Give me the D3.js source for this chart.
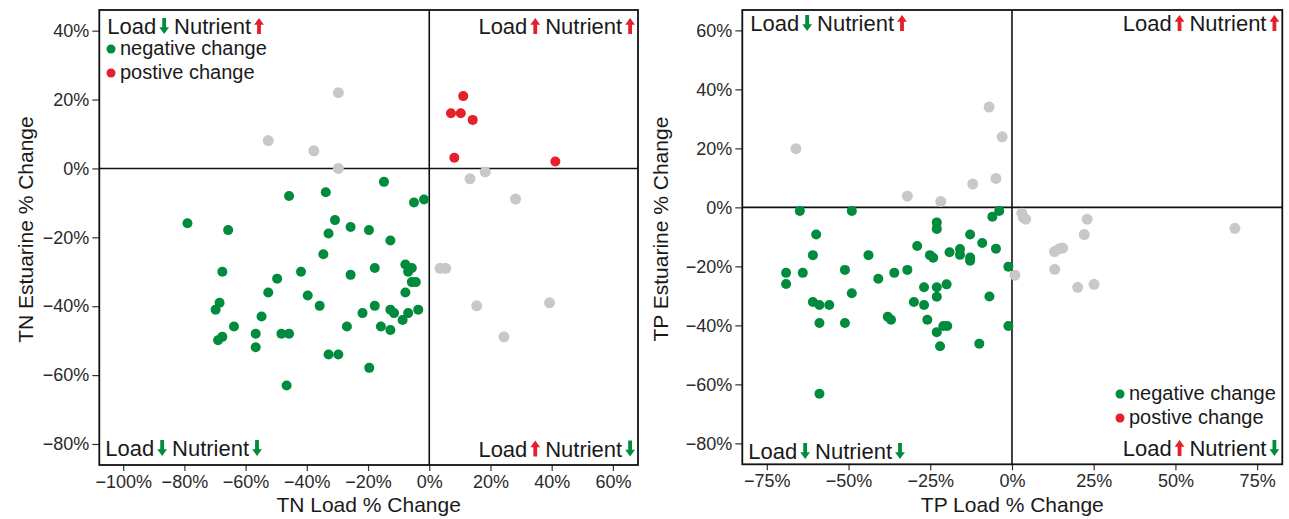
<!DOCTYPE html>
<html>
<head>
<meta charset="utf-8">
<script src="https://cdn.jsdelivr.net/npm/d3@7"></script>
<style>
  body { margin: 0; background: #fff; }
  svg { display: block; font-family: "Liberation Sans", Arial, sans-serif; }
</style>
</head>
<body>
<div id="chart"></div>
<script>
// TN panel (load % change, estuarine % change)
const tnNegative = [
  [-14.8, -3.9], [-45.8, -8], [-33.8, -6.9], [-5, -9.9], [-1.7, -9],
  [-79, -15.9], [-65.7, -17.9], [-30.8, -15], [-25.7, -17], [-19.7, -17.9],
  [-32.9, -18.9], [-12.7, -20.9], [-34.6, -24.9], [-67.6, -30], [-41.9, -30],
  [-49.7, -32], [-25.7, -30.9], [-17.8, -28.9], [-7.8, -27.9], [-6.3, -29.1],
  [-5.7, -28.9], [-6.9, -30], [-52.6, -36], [-39.7, -36.9], [-5.7, -33],
  [-4.4, -33], [-7.8, -36], [-68.5, -39], [-69.8, -41], [-35.8, -39.9],
  [-17.8, -39.9], [-54.8, -43], [-21.8, -42], [-12.7, -41], [-11.5, -42],
  [-6.9, -42], [-3.6, -41], [-8.7, -44], [-63.8, -45.9], [-56.7, -48],
  [-48.3, -48], [-45.8, -48], [-26.9, -45.9], [-15.8, -45.9], [-12.7, -46.9],
  [-67.6, -48.9], [-69, -49.9], [-56.7, -51.9], [-32.9, -54], [-29.7, -54],
  [-19.6, -57.9], [-46.6, -63]
];
const tnPositive = [
  [11.1, 21], [7.1, 16], [10.3, 16], [14.2, 14.1], [8.2, 3.1], [41.2, 2]
];
const tnNeutral = [
  [-29.7, 22], [-52.6, 8.1], [-37.7, 5.1], [-29.7, 0], [18.3, -1], [13.3, -3],
  [28.2, -8.9], [3.5, -29], [5.4, -29], [15.5, -39.9], [39.3, -39], [24.4, -48.9]
];

// TP panel
const tpNegative = [
  [-64.9, -1.2], [-49, -1.2], [-3.9, -1.2], [-6, -3.2], [-23, -5.1], [-23, -7.3],
  [-59.9, -9.2], [-12.8, -9.2], [-9.1, -12.1], [-29, -13.1], [-4.9, -14],
  [-60.9, -16.2], [-43.9, -16.2], [-25.1, -16.2], [-24.1, -17.1], [-19.1, -15.2],
  [-15.9, -14.1], [-15.9, -16.1], [-12.8, -17], [-12.8, -18.1], [-1.1, -20.1],
  [-69.1, -22.2], [-69.1, -26], [-64, -22.2], [-51.1, -21.2], [-36, -22.2],
  [-32, -21.2], [-40.9, -24.2], [-49, -29.1], [-26.9, -27.1], [-23, -27.1],
  [-20, -26.1], [-23, -30.3], [-6.9, -30.2], [-60.9, -32.1], [-58.9, -33.1],
  [-55.9, -33.1], [-30, -32.1], [-26.9, -33.1], [-38, -37.1], [-37, -38.1],
  [-25.9, -38.1], [-58.9, -39.2], [-51.1, -39.2], [-21, -40.2], [-19.8, -40.2],
  [-23, -42.3], [-1.1, -40.2], [-22, -47.1], [-10, -46.2], [-58.9, -63.2]
];
const tpPositive = [];
const tpNeutral = [
  [-66.1, 19.9], [-7, 34], [-3, 23.9], [-4.9, 9.8], [-12, 7.9], [-32, 3.8],
  [-21.8, 2], [0.9, -23], [3, -2], [3.5, -3.5], [4.2, -4], [23, -4],
  [22.1, -9.2], [68.2, -7.1], [13, -15], [14.5, -14], [15.5, -13.8],
  [13.1, -21], [20.1, -27.1], [25.1, -26.1]
];

const tnXTicks = [-100, -80, -60, -40, -20, 0, 20, 40, 60];
const tnYTicks = [-80, -60, -40, -20, 0, 20, 40];
const tpXTicks = [-75, -50, -25, 0, 25, 50, 75];
const tpYTicks = [-80, -60, -40, -20, 0, 20, 40, 60];

const legendLabels = ["negative change", "postive change"];

const GREEN = "#008c3c";
const RED = "#e3202b";
const GREY = "#c8c8c8";

const width = 1289;
const height = 519;

const svg = d3.select("#chart").append("svg")
  .attr("width", width)
  .attr("height", height);

const pct = d => (d < 0 ? "\u2212" : "") + Math.abs(d) + "%";

// thick arrow glyph, origin at baseline-left
const arrowDown = "M3,-16L6.8,-16L6.8,-6.8L9.8,-6.8L4.9,0L0,-6.8L3,-6.8Z";
const arrowUp = "M3,0L6.8,0L6.8,-9.2L9.8,-9.2L4.9,-16L0,-9.2L3,-9.2Z";

function quadLabel(parent, x, y, anchor, loadUp, nutUp) {
  const g = parent.append("g");
  let cx = 0;
  const t1 = g.append("text").attr("x", cx).attr("y", 0)
    .style("font-size", "22px").attr("fill", "#1a1a1a").text("Load");
  cx += t1.node().getComputedTextLength() + 3;
  g.append("path").attr("d", loadUp ? arrowUp : arrowDown)
    .attr("transform", `translate(${cx},0)`)
    .attr("fill", loadUp ? RED : GREEN);
  cx += 9.8 + 5;
  const t2 = g.append("text").attr("x", cx).attr("y", 0)
    .style("font-size", "22px").attr("fill", "#1a1a1a").text("Nutrient");
  cx += t2.node().getComputedTextLength() + 3;
  g.append("path").attr("d", nutUp ? arrowUp : arrowDown)
    .attr("transform", `translate(${cx},0)`)
    .attr("fill", nutUp ? RED : GREEN);
  cx += 9.8;
  const x0 = anchor === "end" ? x - cx : x;
  g.attr("transform", `translate(${x0},${y})`);
}

function drawPanel(p) {
  const x = d3.scaleLinear().domain(p.xDomain).range([p.left, p.right]);
  const y = d3.scaleLinear().domain(p.yDomain).range([p.bottom, p.top]);
  const g = svg.append("g");

  // axes
  g.append("g")
    .attr("transform", `translate(0,${p.bottom})`)
    .call(d3.axisBottom(x).tickValues(p.xTicks).tickFormat(pct).tickSizeOuter(0).tickSize(6).tickPadding(4))
    .call(a => a.select(".domain").remove())
    .call(a => a.selectAll("line").attr("stroke", "#333").attr("stroke-width", 1.2))
    .call(a => a.selectAll("text").style("font-size", "18px").attr("fill", "#2a2a2a")
      .attr("font-family", "Liberation Sans, Arial, sans-serif"));

  g.append("g")
    .attr("transform", `translate(${p.left},0)`)
    .call(d3.axisLeft(y).tickValues(p.yTicks).tickFormat(pct).tickSizeOuter(0).tickSize(7).tickPadding(3))
    .call(a => a.select(".domain").remove())
    .call(a => a.selectAll("line").attr("stroke", "#333").attr("stroke-width", 1.2))
    .call(a => a.selectAll("text").style("font-size", "18px").attr("fill", "#2a2a2a")
      .attr("font-family", "Liberation Sans, Arial, sans-serif"));

  // zero lines
  g.append("line")
    .attr("x1", x(0)).attr("x2", x(0))
    .attr("y1", p.top).attr("y2", p.bottom)
    .attr("stroke", "#111").attr("stroke-width", 1.6);
  g.append("line")
    .attr("x1", p.left).attr("x2", p.right)
    .attr("y1", y(0)).attr("y2", y(0))
    .attr("stroke", "#111").attr("stroke-width", 1.6);

  // points
  const layers = [
    { data: p.neutral, color: GREY, r: 5.5 },
    { data: p.negative, color: GREEN, r: 5 },
    { data: p.positive, color: RED, r: 5 }
  ];
  layers.forEach(l => {
    g.append("g").selectAll("circle")
      .data(l.data)
      .join("circle")
      .attr("cx", d => x(d[0]))
      .attr("cy", d => y(d[1]))
      .attr("r", l.r)
      .attr("fill", l.color);
  });

  // frame
  g.append("rect")
    .attr("x", p.left).attr("y", p.top)
    .attr("width", p.right - p.left).attr("height", p.bottom - p.top)
    .attr("fill", "none").attr("stroke", "#111").attr("stroke-width", 1.8);

  // quadrant labels
  quadLabel(g, p.left + 8, p.qTop, "start", false, true);
  quadLabel(g, p.right - 3, p.qTop, "end", true, true);
  quadLabel(g, p.left + 6, p.qBottomL, "start", false, false);
  quadLabel(g, p.right - 3, p.qBottomR, "end", true, false);

  // legend
  const leg = g.append("g");
  legendLabels.forEach((lab, i) => {
    leg.append("circle")
      .attr("cx", p.legX).attr("cy", p.legY + i * 24)
      .attr("r", 4.5).attr("fill", i === 0 ? GREEN : RED);
    leg.append("text")
      .attr("x", p.legX + 9).attr("y", p.legY + i * 24 + 6)
      .style("font-size", "20px").attr("fill", "#1a1a1a")
      .text(lab);
  });

  // axis titles
  g.append("text")
    .attr("x", (p.left + p.right) / 2).attr("y", 512)
    .attr("text-anchor", "middle")
    .style("font-size", "21px").attr("fill", "#1a1a1a")
    .text(p.xTitle);
  g.append("text")
    .attr("transform", `translate(${p.yTitleX},${(p.top + p.bottom) / 2 - 8}) rotate(-90)`)
    .attr("text-anchor", "middle")
    .style("font-size", "21px").attr("fill", "#1a1a1a")
    .text(p.yTitle);
}

drawPanel({
  left: 99.3, right: 638, top: 10, bottom: 465,
  xDomain: [-107.8, 68.2], yDomain: [-86.1, 46],
  xTicks: tnXTicks, yTicks: tnYTicks,
  negative: tnNegative, positive: tnPositive, neutral: tnNeutral,
  qTop: 34, qBottomL: 456, qBottomR: 456.5,
  legX: 111, legY: 49,
  xTitle: "TN Load % Change", yTitle: "TN Estuarine % Change", yTitleX: 33
});

drawPanel({
  left: 742.3, right: 1282.3, top: 10, bottom: 464.3,
  xDomain: [-82.5, 82.7], yDomain: [-87.1, 66.9],
  xTicks: tpXTicks, yTicks: tpYTicks,
  negative: tpNegative, positive: tpPositive, neutral: tpNeutral,
  qTop: 31, qBottomL: 459, qBottomR: 456,
  legX: 1120, legY: 394,
  xTitle: "TP Load % Change", yTitle: "TP Estuarine % Change", yTitleX: 668
});
</script>
</body>
</html>
